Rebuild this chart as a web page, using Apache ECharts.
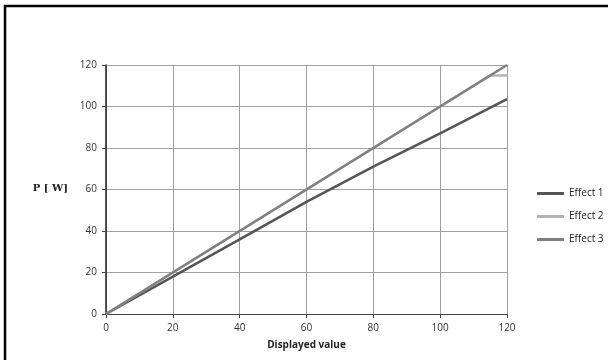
<!DOCTYPE html>
<html><head><meta charset="utf-8">
<script src="https://cdn.jsdelivr.net/npm/echarts@6/dist/echarts.min.js"></script>
<style>html,body{margin:0;padding:0;background:#fff;}#c{width:608px;height:360px;}</style>
</head><body><div id="c"></div>
<script>
const xTicks = [0, 20, 40, 60, 80, 100, 120];
const yTicks = [0, 20, 40, 60, 80, 100, 120];
const seriesNames = ['Effect 1', 'Effect 2', 'Effect 3'];
const effect1X = [0, 20, 40, 60, 80, 100, 120];
const effect1Y = [0, 18, 36, 54, 71, 87, 103.5];
const effect2X = [0, 20, 40, 60, 80, 100, 115, 120];
const effect2Y = [0, 20, 40, 60, 80, 100, 115, 115];
const effect3X = [0, 20, 40, 60, 80, 100, 120];
const effect3Y = [0, 20, 40, 60, 80, 100, 120];
const xName = 'Displayed value';
const yName = 'P [ W]';

const pairs = (xs, ys) => xs.map((x, i) => [x, ys[i]]);
const colors = ['#555555', '#b4b4b4', '#808080'];
const font = 'Open Sans';

const chart = echarts.init(document.getElementById('c'), null, {renderer: 'canvas'});
chart.setOption({
  animation: false,
  backgroundColor: '#ffffff',
  color: colors,
  grid: {left: 106, right: 101, top: 65, bottom: 46},
  xAxis: {
    type: 'value', min: xTicks[0], max: xTicks[xTicks.length - 1], interval: 20,
    name: xName, nameLocation: 'middle', nameGap: 26,
    nameTextStyle: {fontFamily: font, fontSize: 10, fontWeight: 'bold', color: '#222'},
    axisLine: {show: true, lineStyle: {color: '#444', width: 1}},
    axisTick: {show: true, length: 4, lineStyle: {color: '#444'}},
    axisLabel: {fontFamily: font, fontSize: 10, color: '#333', margin: 9},
    splitLine: {show: true, lineStyle: {color: '#a0a0a0', width: 1}}
  },
  yAxis: {
    type: 'value', min: yTicks[0], max: yTicks[yTicks.length - 1], interval: 20,
    axisLine: {show: true, lineStyle: {color: '#222', width: 1.5}},
    axisTick: {show: true, length: 4, lineStyle: {color: '#444'}},
    axisLabel: {fontFamily: font, fontSize: 10, color: '#333', margin: 9},
    splitLine: {show: true, lineStyle: {color: '#a0a0a0', width: 1}}
  },
  legend: {
    orient: 'vertical', left: 532, top: 182,
    itemWidth: 27, itemHeight: 3, itemGap: 10,
    icon: 'rect',
    textStyle: {fontFamily: font, fontSize: 10, color: '#222', lineHeight: 13},
    data: seriesNames
  },
  graphic: [
    {type: 'line', shape: {x1: 4, y1: 6, x2: 608, y2: 6}, style: {stroke: '#000', lineWidth: 2.5}},
    {type: 'line', shape: {x1: 5, y1: 5, x2: 5, y2: 360}, style: {stroke: '#000', lineWidth: 2.5}},
    {type: 'text', right: 608 - 68, top: 183, style: {text: yName, font: 'bold 10px "DejaVu Serif", serif', fill: '#222', textAlign: 'right'}}
  ],
  series: [
    {name: seriesNames[0], type: 'line', data: pairs(effect1X, effect1Y), showSymbol: false, lineStyle: {width: 2.5, color: colors[0]}, itemStyle: {color: colors[0]}},
    {name: seriesNames[1], type: 'line', data: pairs(effect2X, effect2Y), showSymbol: false, lineStyle: {width: 2.5, color: colors[1]}, itemStyle: {color: colors[1]}},
    {name: seriesNames[2], type: 'line', data: pairs(effect3X, effect3Y), showSymbol: false, lineStyle: {width: 2.5, color: colors[2]}, itemStyle: {color: colors[2]}}
  ]
});
</script></body></html>
